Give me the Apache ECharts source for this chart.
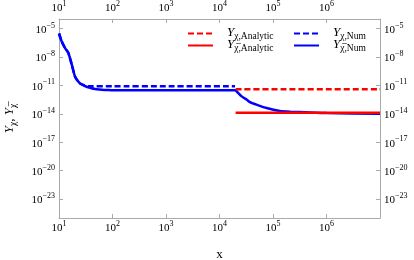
<!DOCTYPE html>
<html><head><meta charset="utf-8">
<script src="https://cdn.jsdelivr.net/npm/echarts@6/dist/echarts.min.js"></script>
<style>html,body{margin:0;padding:0;background:#fff}#c{width:414px;height:260px}</style>
</head><body><div id="c"></div>
<script>
// x positions and values
const numBarX = [10, 11.2, 12.9, 14.9, 17.3, 20, 24.6, 30, 35, 50, 80, 100, 1000, 19500, 21000, 26000, 32000, 37000, 50000, 76000, 135000, 210000, 490000, 1e6, 1e7];
const numBarY = [2.95e-6, 4.6e-7, 9.1e-8, 2.7e-8, 1.6e-9, 7.9e-11, 1.6e-11, 8.9e-12, 6.3e-12, 3.8e-12, 3.2e-12, 2.95e-12, 2.95e-12, 2.95e-12, 2.24e-12, 6.8e-13, 3.2e-13, 1.7e-13, 8.9e-14, 4.0e-14, 2.0e-14, 1.66e-14, 1.35e-14, 1.17e-14, 1.0e-14];
const numX = [10, 11.2, 12.9, 14.9, 17.3, 20, 24.6, 30, 35, 100, 1000, 19500];
const numY = [2.95e-6, 4.6e-7, 9.1e-8, 2.7e-8, 1.6e-9, 7.9e-11, 1.6e-11, 1.0e-11, 7.9e-12, 7.9e-12, 7.9e-12, 7.9e-12];
const anaX = [2e4, 1e7];
const anaY = [3.8e-12, 3.8e-12];
const anaBarX = [2e4, 1e7];
const anaBarY = [1.26e-14, 1.26e-14];
const xTickExp = [1, 2, 3, 4, 5, 6];
const yTickExp = [-23, -20, -17, -14, -11, -8, -5];

const L = Math.log10;
const pts = (xs, ys) => xs.map((x, i) => [L(x), L(ys[i])]);
const FONT = 'Liberation Serif';
const RED = '#ff0000', BLUE = '#0000ff';
const supRich = {
  b: {fontFamily: FONT, fontSize: 11, color: '#000', lineHeight: 14, verticalAlign: 'bottom'},
  s: {fontFamily: FONT, fontSize: 8, color: '#000', lineHeight: 8, verticalAlign: 'top'}
};
const powFmt = v => '{b|10}{s|' + String(Math.round(v)).replace('-', '\u2212') + '}';
const subRich = {
  y: {fontFamily: FONT, fontSize: 13, fontStyle: 'italic', color: '#000', lineHeight: 15, verticalAlign: 'top'},
  s: {fontFamily: FONT, fontSize: 9.5, color: '#000', lineHeight: 9, verticalAlign: 'bottom'},
  n: {fontFamily: FONT, fontSize: 13, color: '#000', lineHeight: 15, verticalAlign: 'top'}
};
const legRich = {
  y: Object.assign({}, subRich.y, {padding: [0, 0, 0, 9]}),
  s: subRich.s
};
const CHI = '\u03C7', CHIBAR = '\u03C7\u0305';
const names = {
  chiA: '{y|Y}{s|' + CHI + ',Analytic}',
  chibarA: '{y|Y}{s|' + CHIBAR + ',Analytic}',
  chiN: '{y|Y}{s|' + CHI + ',Num}',
  chibarN: '{y|Y}{s|' + CHIBAR + ',Num}'
};
const axisLine = {show: true, lineStyle: {color: '#aaa', width: 1}};
const xAxisBase = {
  type: 'value', min: 1, max: 7, interval: 1,
  axisLine: axisLine, splitLine: {show: false},
  axisTick: {inside: true, length: 4, lineStyle: {color: '#aaa'}, customValues: xTickExp},
  axisLabel: {customValues: xTickExp, formatter: powFmt, rich: supRich, margin: 2}
};
const yAxisBase = {
  type: 'value', min: -25, max: -4,
  axisLine: axisLine, splitLine: {show: false},
  axisTick: {inside: true, length: 4, lineStyle: {color: '#aaa'}, customValues: yTickExp},
  axisLabel: {customValues: yTickExp, formatter: powFmt, rich: supRich, margin: 4}
};
const chart = echarts.init(document.getElementById('c'), null, {renderer: 'canvas'});
const lineSeries = (name, data, color, type, z) => ({
  name, type: 'line', data, showSymbol: false, symbol: 'none', smooth: 0.2, z,
  lineStyle: {color, width: 2.5, type}, itemStyle: {color}
});
const legendBase = {orient: 'vertical', top: 26, padding: 0, itemWidth: 25, itemHeight: 1, itemGap: -3,
  formatter: n => names[n], textStyle: {rich: legRich}, itemStyle: {opacity: 0}};
chart.setOption({
  animation: false,
  grid: {left: 59, right: 34, top: 19, bottom: 42, outerBoundsMode: 'none', containLabel: false},
  xAxis: [
    Object.assign({}, xAxisBase, {position: 'bottom', name: 'x', nameLocation: 'middle', nameGap: 30,
      nameTextStyle: {fontFamily: FONT, fontSize: 13, color: '#000'}}),
    Object.assign({}, xAxisBase, {position: 'top', axisLabel: Object.assign({}, xAxisBase.axisLabel, {margin: 5})})
  ],
  yAxis: [
    Object.assign({}, yAxisBase, {position: 'left', name: '{y|Y}{s|' + CHI + '}{n|, }{y|Y}{s|' + CHIBAR + '}',
      nameLocation: 'middle', nameGap: 41, nameRotate: 90, nameTextStyle: {rich: subRich}}),
    Object.assign({}, yAxisBase, {position: 'right'})
  ],
  legend: [
    Object.assign({}, legendBase, {left: 187, data: ['chiA', 'chibarA']}),
    Object.assign({}, legendBase, {left: 293, data: ['chiN', 'chibarN']})
  ],
  series: [
    lineSeries('chiN', pts(numX, numY), BLUE, [6, 3], 2),
    lineSeries('chibarN', pts(numBarX, numBarY), BLUE, 'solid', 2),
    lineSeries('chiA', pts(anaX, anaY), RED, [6, 3], 3),
    lineSeries('chibarA', pts(anaBarX, anaBarY), RED, 'solid', 3)
  ]
});
</script></body></html>
